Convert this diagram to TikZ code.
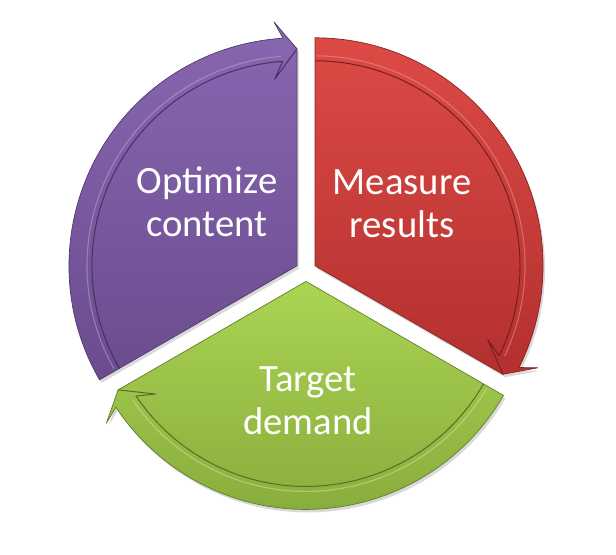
\documentclass[tikz,border=0pt]{standalone}
\usepackage{fontspec}
\setmainfont{Carlito}
\usetikzlibrary{calc}
\definecolor{purpTop}{HTML}{8867B1}
\definecolor{purpBot}{HTML}{6A4C8E}
\definecolor{redTop}{HTML}{DD4A45}
\definecolor{redBot}{HTML}{B3302F}
\definecolor{grnTop}{HTML}{ABD453}
\definecolor{grnBot}{HTML}{84A83A}
\tikzset{
  segpath/.style={insert path={(0,0) -- (#1:228)
      arc[start angle=#1, end angle=#1-116.5, radius=228]
      -- (#1-114.6:245) -- (#1-120:217) -- cycle}},
  seg/.style={draw=#1Bot!75!black, line width=0.5pt, line join=round,
              top color=#1Top, bottom color=#1Bot},
  shade/.style={fill=black, opacity=0.15},
  band/.style={draw=#1Bot!65!black, line width=0.7pt, line join=round},
  glow/.style={draw=#1Top!55!white, line width=0.8pt, opacity=0.5},
  lbl/.style={text=white, align=center, font=\fontsize{27.5}{30.5}\selectfont},
}

\begin{document}
\begin{tikzpicture}[x=0.025cm, y=0.025cm]
  \useasboundingbox (0,0) rectangle (616,554);
  \coordinate (ctr) at (306,283);
  % three exploded segments, each with an arrow band on the rim
  \foreach \name/\s in {purp/210, red/90, grn/-30}{
    \coordinate (apex-\name) at ($(ctr)+(\s-60:10.4)$);
    \begin{scope}[shift={(apex-\name)}]
      \path[shade, shift={(2,-3)}, segpath=\s];
      \path[seg=\name, segpath=\s];
      % inner edge of the band and inner barb of the head
      \draw[glow=\name] (\s-0.6:210) arc[start angle=\s-0.6, end angle=\s-115.5, radius=210];
      \draw[band=\name] (\s:205) arc[start angle=\s, end angle=\s-116, radius=205]
        -- (\s-113.2:188) -- (\s-120:217);
    \end{scope}
  }
  \node[lbl] (optimize) at (207,352) {Optimize\\content};
  \node[lbl] (measure) at (402,350.5) {Measure\\results};
  \node[lbl] (target) at (308,153.5) {Target\\demand};
\end{tikzpicture}
\end{document}
